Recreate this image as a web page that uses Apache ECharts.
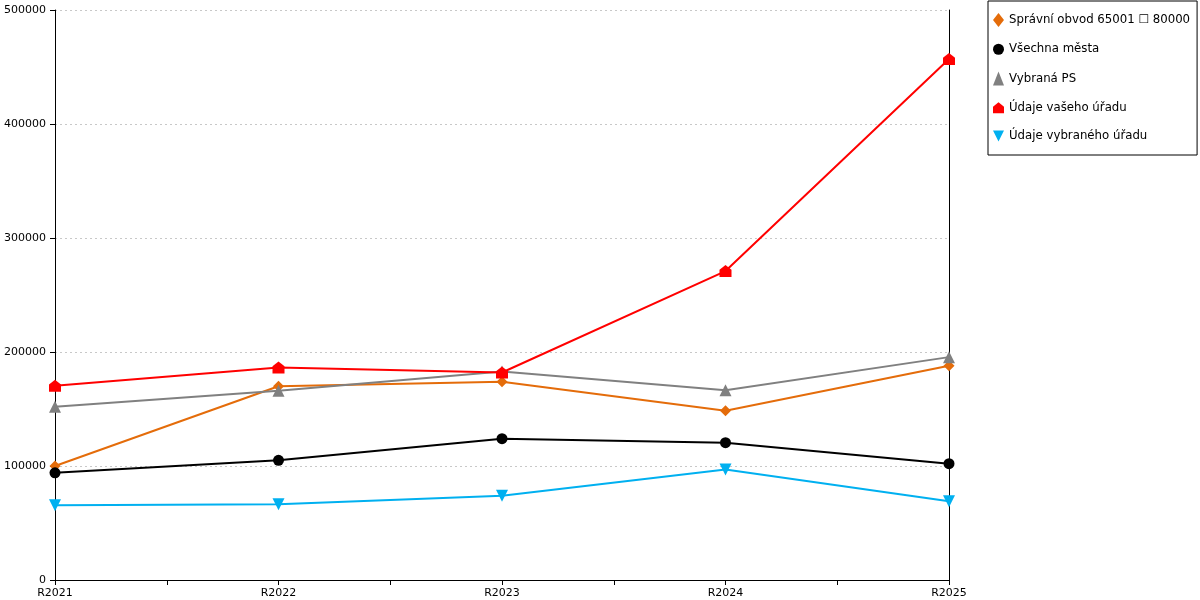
<!DOCTYPE html>
<html>
<head>
<meta charset="utf-8">
<script src="https://cdn.jsdelivr.net/npm/echarts@6/dist/echarts.min.js"></script>
<style>
html, body { margin: 0; padding: 0; background: #fff; }
#chart { width: 1200px; height: 600px; }
</style>
</head>
<body>
<div id="chart"></div>
<script>
var years = ['R2021', 'R2022', 'R2023', 'R2024', 'R2025'];
var seriesNames = ['Správní obvod 65001 ☐ 80000', 'Všechna města', 'Vybraná PS', 'Údaje vašeho úřadu', 'Údaje vybraného úřadu'];
var obvodData = [100000, 170000, 174000, 148500, 188000];
var mestaData = [94000, 105000, 124000, 120500, 102000];
var psData = [152000, 166000, 183000, 166500, 195500];
var vasData = [170500, 186500, 182000, 271000, 457000];
var vybranyData = [65500, 66500, 74000, 97000, 69000];
var yTicks = [0, 100000, 200000, 300000, 400000, 500000];

var colors = ['#e46c0a', '#000000', '#808080', '#ff0000', '#00b0f0'];
var symbols = ['diamond', 'circle', 'triangle', 'path://M5,0 L10,4 L10,10 L0,10 L0,4 Z', 'path://M0,0 L10,0 L5,10 Z'];
var symbolSizes = [11, 11, 12, 12, 12];
var allData = [obvodData, mestaData, psData, vasData, vybranyData];

function pairs(arr) {
	var out = [];
	for (var i = 0; i < arr.length; i++) {
		out.push([i, arr[i]]);
	}
	return out;
}

var series = [];
for (var s = 0; s < seriesNames.length; s++) {
	series.push({
		name: seriesNames[s],
		type: 'line',
		data: pairs(allData[s]),
		symbol: symbols[s],
		symbolSize: symbolSizes[s],
		showAllSymbol: true,
		lineStyle: { color: colors[s], width: 2 },
		itemStyle: { color: colors[s] },
		emphasis: { disabled: true }
	});
}

var myChart = echarts.init(document.getElementById('chart'));
myChart.setOption({
	animation: false,
	textStyle: { fontFamily: 'DejaVu Sans' },
	grid: {
		left: 55,
		right: 251,
		top: 10,
		bottom: 20
	},
	legend: {
		orient: 'vertical',
		left: 988,
		top: 1,
		padding: [12, 7, 13, 5],
		itemGap: 16.25,
		itemWidth: 11,
		itemHeight: 14,
		borderColor: '#000',
		borderWidth: 1,
		textStyle: { fontSize: 11.75, color: '#000', fontFamily: 'DejaVu Sans' },
		data: seriesNames.map(function(n, i) {
			return { name: n, icon: symbols[i] };
		})
	},
	xAxis: {
		type: 'value',
		min: 0,
		max: years.length - 1,
		interval: 0.5,
		splitLine: { show: false },
		axisLine: { lineStyle: { color: '#000' } },
		axisTick: { length: 5, lineStyle: { color: '#000' } },
		axisLabel: {
			color: '#000',
			fontSize: 11,
			margin: 8,
			formatter: function(v) {
				return Number.isInteger(v) ? years[v] : '';
			}
		}
	},
	yAxis: [{
		type: 'value',
		min: yTicks[0],
		max: yTicks[yTicks.length - 1],
		interval: 100000,
		axisLine: { show: true, lineStyle: { color: '#000' } },
		axisTick: { show: true, length: 5, lineStyle: { color: '#000' } },
		axisLabel: { color: '#000', fontSize: 11, margin: 9, formatter: function(v) { return String(v); } },
		splitLine: { show: true, lineStyle: { color: '#c8c8c8', type: [2, 3] } }
	}, {
		type: 'value',
		position: 'right',
		min: yTicks[0],
		max: yTicks[yTicks.length - 1],
		axisLine: { show: true, lineStyle: { color: '#000' } },
		axisTick: { show: false },
		axisLabel: { show: false },
		splitLine: { show: false }
	}],
	series: series
});
</script>
</body>
</html>
